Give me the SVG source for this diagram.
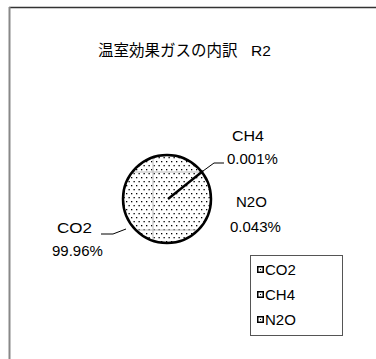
<svg xmlns="http://www.w3.org/2000/svg" width="376" height="359" viewBox="0 0 376 359">
<defs>
<style>
text{font-family:"Liberation Sans","Noto Sans CJK JP",sans-serif;fill:#000}
.lbl{font-size:15px}
.leg{font-size:15px}
.lead{fill:none;stroke:#000;stroke-width:1}
</style>
<pattern id="dots" width="5" height="8" patternUnits="userSpaceOnUse">
<rect x="1" y="1" width="1.3" height="1.3" fill="#000"/>
<rect x="3.5" y="5" width="1.3" height="1.3" fill="#000"/>
</pattern>
<clipPath id="pc"><circle cx="167" cy="199" r="44"/></clipPath>
</defs>
<rect width="376" height="359" fill="#fff"/>
<g id="frame">
<line x1="9" y1="7.5" x2="376" y2="7.5" stroke="#333" stroke-width="1.5"/>
<line x1="9.5" y1="7" x2="9.5" y2="359" stroke="#888" stroke-width="2"/>
</g>
<g id="title"><text x="98" y="56" font-size="15.5">温室効果ガスの内訳<tspan x="251">R2</tspan></text></g>
<g id="pie">
<circle cx="167" cy="199" r="44" fill="#fff"/>
<circle cx="167" cy="199" r="44" fill="url(#dots)"/>
<g clip-path="url(#pc)" stroke="#bbb" stroke-width="1">
<line x1="120" y1="172" x2="215" y2="172"/>
<line x1="120" y1="230" x2="215" y2="230"/>
<line x1="153" y1="150" x2="153" y2="250"/>
</g>
<line x1="168" y1="199" x2="203" y2="171" stroke="#000" stroke-width="2.5"/>
<circle cx="167" cy="199" r="44" fill="none" stroke="#000" stroke-width="2.5"/>
</g>
<g id="connectors">
<polyline class="lead" points="203,171 214,163 224,163"/>
<polyline class="lead" points="101,234 113,234 126,229"/>
</g>
<g id="label-ch4"><text class="lbl" x="232" y="141" textLength="32" lengthAdjust="spacingAndGlyphs">CH4</text><text class="lbl" x="227" y="164">0.001%</text></g>
<g id="label-n2o"><text class="lbl" x="236" y="207">N2O</text><text class="lbl" x="230" y="232">0.043%</text></g>
<g id="label-co2"><text class="lbl" x="57" y="233" textLength="35" lengthAdjust="spacingAndGlyphs">CO2</text><text class="lbl" x="52" y="256">99.96%</text></g>
<g id="legend">
<rect x="250.5" y="255.5" width="92" height="80" fill="#fff" stroke="#555" stroke-width="1"/>
<g>
<rect x="257" y="266" width="7" height="7" fill="#000"/><rect x="258.5" y="267.5" width="4" height="4" fill="#fff"/><rect x="260" y="269" width="1" height="1" fill="#000"/>
<text class="leg" x="265" y="275">CO2</text>
</g>
<g>
<rect x="257" y="291" width="7" height="7" fill="#000"/><rect x="258.5" y="292.5" width="4" height="4" fill="#fff"/><rect x="260" y="294" width="1" height="1" fill="#000"/>
<text class="leg" x="265" y="300">CH4</text>
</g>
<g>
<rect x="257" y="316" width="7" height="7" fill="#000"/><rect x="258.5" y="317.5" width="4" height="4" fill="#fff"/><rect x="260" y="319" width="1" height="1" fill="#000"/>
<text class="leg" x="265" y="325">N2O</text>
</g>
</g>
</svg>
